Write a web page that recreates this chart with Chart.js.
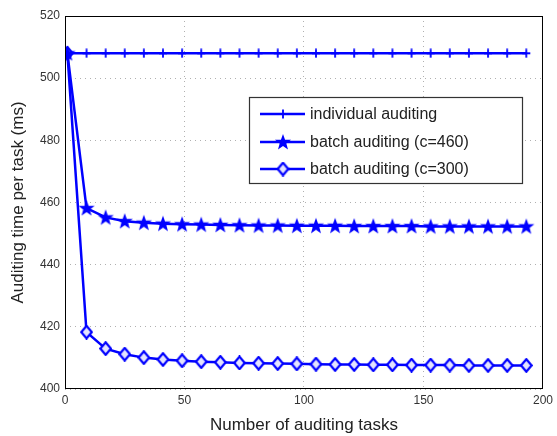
<!DOCTYPE html>
<html>
<head>
<meta charset="utf-8">
<script src="https://cdn.jsdelivr.net/npm/chart.js@4.4.1/dist/chart.umd.min.js"></script>
<style>
    html, body { margin: 0; padding: 0; background: #fff; }
    #wrap { width: 557px; height: 436px; position: relative; }
</style>
</head>
<body>
<div id="wrap"><canvas id="auditChart" width="557" height="436"></canvas></div>
<script>
// data
const tasks = [1, 9, 17, 25, 33, 41, 49, 57, 65, 73, 81, 89, 97, 105, 113, 121, 129, 137, 145, 153, 161, 169, 177, 185, 193];
const individual = [508, 508, 508, 508, 508, 508, 508, 508, 508, 508, 508, 508, 508, 508, 508, 508, 508, 508, 508, 508, 508, 508, 508, 508, 508];
const batch460 = [508, 458.2, 455.2, 454.0, 453.5, 453.2, 453.0, 452.9, 452.8, 452.7, 452.6, 452.6, 452.5, 452.5, 452.5, 452.4, 452.4, 452.4, 452.4, 452.3, 452.3, 452.3, 452.3, 452.3, 452.3];
const batch300 = [508, 418.3, 413.0, 411.2, 410.1, 409.5, 409.1, 408.8, 408.6, 408.4, 408.3, 408.2, 408.1, 408.0, 407.9, 407.9, 407.8, 407.8, 407.7, 407.7, 407.7, 407.6, 407.6, 407.6, 407.6];
const seriesNames = ['individual auditing', 'batch auditing (c=460)', 'batch auditing (c=300)'];
const xTicks = [0, 50, 100, 150, 200];
const yTicks = [400, 420, 440, 460, 480, 500, 520];

const BLUE = '#0000ff';

// marker images
function makePlus() {
    const c = document.createElement('canvas');
    c.width = 10; c.height = 10;
    const g = c.getContext('2d');
    g.strokeStyle = BLUE;
    g.lineWidth = 1.8;
    g.beginPath();
    g.moveTo(5, 0.5); g.lineTo(5, 9.5);
    g.moveTo(1, 5); g.lineTo(9, 5);
    g.stroke();
    return c;
}

function makeStar() {
    const c = document.createElement('canvas');
    c.width = 18; c.height = 18;
    const g = c.getContext('2d');
    const cx = 9, cy = 9.5, ro = 8.5, ri = 3.5;
    g.fillStyle = BLUE;
    g.beginPath();
    for (let i = 0; i < 10; i++) {
        const r = i % 2 === 0 ? ro : ri;
        const a = -Math.PI / 2 + i * Math.PI / 5;
        const px = cx + r * Math.cos(a), py = cy + r * Math.sin(a);
        if (i === 0) g.moveTo(px, py); else g.lineTo(px, py);
    }
    g.closePath();
    g.fill();
    return c;
}

function makeDiamond() {
    const c = document.createElement('canvas');
    c.width = 13; c.height = 15;
    const g = c.getContext('2d');
    g.fillStyle = '#e4e4ff';
    g.strokeStyle = BLUE;
    g.lineWidth = 2.2;
    g.beginPath();
    g.moveTo(6.5, 1.2); g.lineTo(11.8, 7.5); g.lineTo(6.5, 13.8); g.lineTo(1.2, 7.5);
    g.closePath();
    g.fill();
    g.stroke();
    return c;
}

const markers = [makePlus(), makeStar(), makeDiamond()];

function toPoints(arr) {
    return arr.map((v, i) => ({ x: tasks[i], y: v }));
}

// box around plot area and the legend
const framePlugin = {
    id: 'frame',
    afterDraw(chart) {
        const ctx = chart.ctx;
        const a = chart.chartArea;
        ctx.save();
        ctx.strokeStyle = '#000';
        ctx.lineWidth = 1;
        ctx.strokeRect(a.left + 0.5, a.top + 0.5, a.right - a.left - 1, a.bottom - a.top - 1);

        // legend
        const lx = 249, ly = 97, lw = 273, lh = 86;
        ctx.fillStyle = '#fff';
        ctx.fillRect(lx, ly, lw, lh);
        ctx.strokeStyle = '#333';
        ctx.lineWidth = 1.2;
        ctx.strokeRect(lx + 0.5, ly + 0.5, lw, lh);

        const rows = [114, 142, 169];
        ctx.font = '16px "Liberation Sans", Arial, sans-serif';
        ctx.textBaseline = 'middle';
        rows.forEach((ry, i) => {
            ctx.strokeStyle = BLUE;
            ctx.lineWidth = 2.5;
            ctx.beginPath();
            ctx.moveTo(260, ry);
            ctx.lineTo(305, ry);
            ctx.stroke();
            const m = markers[i];
            ctx.drawImage(m, 283 - m.width / 2, ry - m.height / 2);
            ctx.fillStyle = '#222';
            ctx.fillText(seriesNames[i], 310, ry + 1);
        });
        ctx.restore();
    }
};

const ctx = document.getElementById('auditChart').getContext('2d');
new Chart(ctx, {
    type: 'line',
    data: {
        datasets: [individual, batch460, batch300].map((d, i) => ({
            label: seriesNames[i],
            data: toPoints(d),
            borderColor: BLUE,
            backgroundColor: BLUE,
            borderWidth: 2.5,
            pointStyle: markers[i],
            pointRadius: 6,
            tension: 0,
            fill: false,
        }))
    },
    options: {
        responsive: false,
        animation: false,
        layout: { padding: { left: 0, right: 12, top: 16, bottom: 0 } },
        plugins: {
            legend: { display: false },
            tooltip: { enabled: false },
        },
        scales: {
            x: {
                type: 'linear',
                min: 0,
                max: 200,
                afterBuildTicks: (axis) => { axis.ticks = xTicks.map(v => ({ value: v })); },
                afterFit: (axis) => { axis.height = 47; },
                grid: { color: '#b0b0b0', drawTicks: false },
                border: { display: false, dash: [1, 4] },
                ticks: {
                    padding: 4,
                    color: '#333',
                    font: { family: '"Liberation Sans", Arial, sans-serif', size: 12 },
                },
                title: {
                    display: true,
                    text: 'Number of auditing tasks',
                    color: '#222',
                    padding: { top: 0, bottom: 0 },
                    font: { family: '"Liberation Sans", Arial, sans-serif', size: 17 },
                }
            },
            y: {
                type: 'linear',
                min: 400,
                max: 520,
                afterBuildTicks: (axis) => { axis.ticks = yTicks.map(v => ({ value: v })); },
                afterFit: (axis) => { axis.width = 65; },
                grid: { color: '#b0b0b0', drawTicks: false },
                border: { display: false, dash: [1, 4] },
                ticks: {
                    padding: 5,
                    color: '#333',
                    font: { family: '"Liberation Sans", Arial, sans-serif', size: 12 },
                },
                title: {
                    display: true,
                    text: 'Auditing time per task (ms)',
                    color: '#222',
                    padding: { top: 8, bottom: 0 },
                    font: { family: '"Liberation Sans", Arial, sans-serif', size: 17 },
                }
            }
        }
    },
    plugins: [framePlugin]
});
</script>
</body>
</html>
